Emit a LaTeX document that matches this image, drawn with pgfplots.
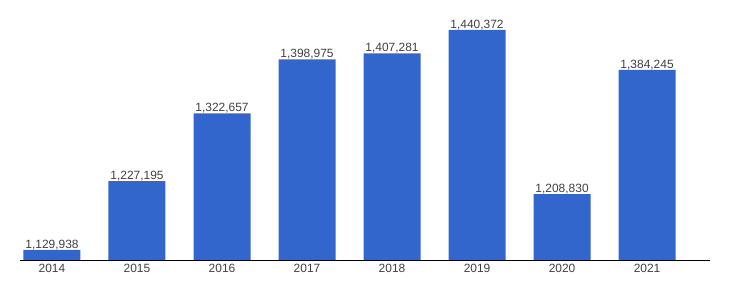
\documentclass[border=0pt]{standalone}
\usepackage{pgfplots}
\pgfplotsset{compat=1.18}
\usepackage{pgfplotstable}
\usepackage{fontspec}
\setmainfont{Liberation Sans}
\definecolor{barblue}{HTML}{3366CC}
\definecolor{txt}{HTML}{404040}
\pgfplotstableread{
x y lab
0 1129938 1,129,938
1 1227195 1,227,195
2 1322657 1,322,657
3 1398975 1,398,975
4 1407281 1,407,281
5 1440372 1,440,372
6 1208830 1,208,830
7 1384245 1,384,245
}\datatable
\begin{document}
\begin{tikzpicture}[x=1bp,y=1bp]
\begin{axis}[
  scale only axis,
  width=690bp, height=250bp,
  xmin=-0.376, xmax=7.74,
  ymin=1115828, ymax=1468578,
  axis x line=bottom, axis y line=none,
  axis line style={black, -},
  x axis line style={-},
  xtick=data,
  xticklabels={2014,2015,2016,2017,2018,2019,2020,2021},
  major tick length=0pt,
  xticklabel style={font=\fontsize{12}{14}\selectfont, text=txt, yshift=-0.5bp},
  ybar, bar width=57bp,
  bar shift=0pt,
  point meta=explicit symbolic,
  nodes near coords={\pgfplotspointmeta},
  every node near coord/.append style={font=\fontsize{12}{14}\selectfont, text=txt, inner sep=0pt, anchor=base, yshift=1.5bp},
  clip=false,
]
\addplot[fill=barblue, draw=none] table[x=x, y=y, meta=lab] {\datatable};
\path[use as bounding box] (rel axis cs:-0.029,-0.12) rectangle (rel axis cs:1.029,1.04);
\end{axis}
\end{tikzpicture}
\end{document}
